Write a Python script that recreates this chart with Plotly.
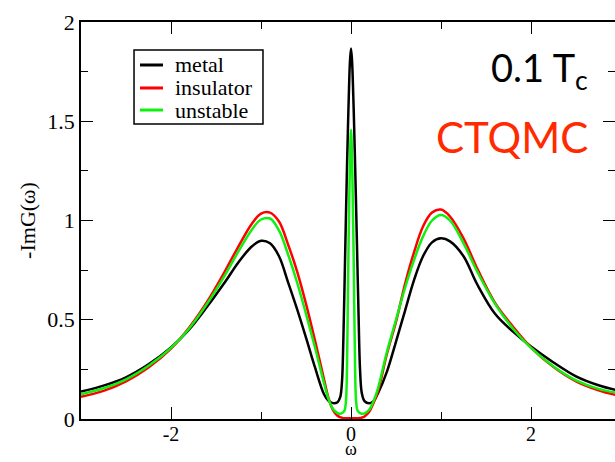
import plotly.graph_objects as go

# frequency grid (omega)
omega = [-3.0, -2.75, -2.5, -2.25, -2.0, -1.8, -1.6, -1.4, -1.25, -1.1, -1.0, -0.9, -0.8, -0.7,
         -0.6, -0.5, -0.4, -0.3, -0.25, -0.2, -0.15, -0.12, -0.1, -0.085, -0.07, -0.055, -0.045,
         -0.035, -0.025, -0.012, 0.0, 0.012, 0.025, 0.035, 0.045, 0.055, 0.07, 0.085, 0.1, 0.12,
         0.15, 0.2, 0.25, 0.3, 0.4, 0.5, 0.6, 0.7, 0.8, 0.9, 1.0, 1.1, 1.25, 1.4, 1.6, 1.8, 2.0,
         2.25, 2.5, 2.75, 3.0]

metal = [0.138, 0.168, 0.21, 0.275, 0.36, 0.45, 0.565, 0.69, 0.79, 0.87, 0.898, 0.885, 0.82, 0.69,
         0.555, 0.41, 0.26, 0.125, 0.092, 0.08, 0.085, 0.11, 0.19, 0.40, 0.72, 1.05, 1.26,
         1.45, 1.62, 1.80, 1.867, 1.80, 1.63, 1.47, 1.29, 1.10, 0.80, 0.50, 0.25, 0.13,
         0.09, 0.079, 0.09, 0.13, 0.24, 0.39, 0.545, 0.70, 0.82, 0.89, 0.91, 0.895, 0.82, 0.68, 0.53, 0.44, 0.365,
         0.285, 0.215, 0.17, 0.14]

insulator = [0.112, 0.142, 0.19, 0.26, 0.355, 0.46, 0.59, 0.745, 0.87, 0.985, 1.035, 1.04, 0.995, 0.88,
             0.745, 0.58, 0.395, 0.2, 0.105, 0.045, 0.016, 0.009, 0.006, 0.004, 0.004, 0.004, 0.004,
             0.004, 0.004, 0.004, 0.004, 0.004, 0.004, 0.004, 0.004, 0.004, 0.004, 0.004, 0.005, 0.007,
             0.013, 0.035, 0.08, 0.14, 0.33, 0.49, 0.68, 0.84, 0.97, 1.04, 1.055, 1.02, 0.91, 0.76, 0.585, 0.465, 0.36,
             0.262, 0.19, 0.145, 0.115]

unstable = [0.125, 0.155, 0.2, 0.268, 0.358, 0.455, 0.58, 0.725, 0.845, 0.955, 1.005, 1.01, 0.95, 0.83,
            0.69, 0.53, 0.36, 0.18, 0.1, 0.05, 0.03, 0.026, 0.03, 0.035, 0.045, 0.1, 0.25,
            0.6, 0.95, 1.30, 1.456, 1.30, 0.95, 0.6, 0.27, 0.1, 0.045, 0.035, 0.03, 0.027,
            0.028, 0.045, 0.09, 0.155, 0.34, 0.5, 0.66, 0.8, 0.92, 1.0, 1.028, 1.0, 0.885, 0.745, 0.58, 0.455, 0.358,
            0.265, 0.195, 0.152, 0.128]

series_names = ["metal", "insulator", "unstable"]
series_values = [metal, insulator, unstable]
series_colors = ["#000000", "#ff0000", "#10f010"]

x_major = [-2, 0, 2]
x_minor = [-3, -1, 1, 3]
y_major = [0, 0.5, 1, 1.5, 2]
y_labels = ["0", "0.5", "1", "1.5", "2"]
y_minor = [0.25, 0.75, 1.25, 1.75]

serif = "Liberation Serif, Times New Roman, DejaVu Serif, serif"

fig = go.Figure()
for name, vals, col in zip(series_names, series_values, series_colors):
    fig.add_trace(go.Scatter(x=omega, y=vals, mode="lines", name=name, showlegend=False,
                             line=dict(color=col, width=2.5, shape="spline", smoothing=1.0)))

fig.update_layout(
    width=615, height=462,
    margin=dict(l=81, r=0, t=22, b=43),
    paper_bgcolor="white", plot_bgcolor="white",
    showlegend=False,
    font=dict(family=serif, color="black"),
)
fig.update_xaxes(range=[-3, 2.933], showgrid=False, zeroline=False,
                 showline=True, linecolor="black", linewidth=1.5, mirror="ticks",
                 ticks="inside", ticklen=12, tickwidth=1.3, tickcolor="black",
                 tickvals=x_major, ticktext=[str(v) for v in x_major],
                 tickfont=dict(family=serif, size=20),
                 ticklabelposition="outside", ticklabelstandoff=-4,
                 minor=dict(tickvals=x_minor, ticks="inside", ticklen=7, tickwidth=1.3, tickcolor="black"),
                 automargin=False)
fig.update_yaxes(range=[0, 2], showgrid=False, zeroline=False,
                 showline=True, linecolor="black", linewidth=1.5, mirror="ticks",
                 ticks="inside", ticklen=12, tickwidth=1.3, tickcolor="black",
                 tickvals=y_major, ticktext=y_labels,
                 tickfont=dict(family=serif, size=22),
                 minor=dict(tickvals=y_minor, ticks="inside", ticklen=7, tickwidth=1.3, tickcolor="black"),
                 title=dict(text="-ImG(ω)", font=dict(family=serif, size=22), standoff=6),
                 automargin=False)

# x-axis title just below the tick labels
fig.add_annotation(xref="x", yref="paper", x=0, y=-0.105, xanchor="center", yanchor="bottom",
                   text="ω", showarrow=False, font=dict(family=serif, size=18, color="black"))

# legend box (drawn in paper coordinates)
fig.add_shape(type="rect", xref="paper", yref="paper", x0=0.0993, x1=0.3408, y0=0.743, y1=0.9295,
              line=dict(color="black", width=1.5), fillcolor="white", layer="above")
row_y = [0.8917, 0.8338, 0.7783]
for name, col, yy in zip(series_names, series_colors, row_y):
    fig.add_shape(type="line", xref="paper", yref="paper", x0=0.1105, x1=0.1536, y0=yy, y1=yy,
                  line=dict(color=col, width=3), layer="above")
    fig.add_annotation(xref="paper", yref="paper", x=0.1723, y=yy, xanchor="left", yanchor="middle",
                       text=name, showarrow=False, font=dict(family=serif, size=22, color="black"))

fig.add_annotation(xref="paper", yref="paper", x=0.953, y=0.879, xanchor="right", yanchor="middle",
                   text="0.1 T<sub>c</sub>", showarrow=False,
                   font=dict(family="Lato", size=38, color="black"))
fig.add_annotation(xref="paper", yref="paper", x=0.953, y=0.71, xanchor="right", yanchor="middle",
                   text="CTQMC", showarrow=False,
                   font=dict(family="Lato", size=42, color="#ff2a00"))

fig.write_html("out.html")
